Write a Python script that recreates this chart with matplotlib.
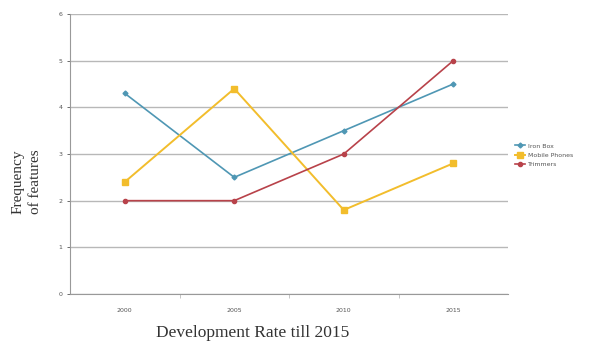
import matplotlib
matplotlib.use("Agg")
import matplotlib.pyplot as plt
import numpy as np

categories = ["2000", "2005", "2010", "2015"]
iron_box = [4.3, 2.5, 3.5, 4.5]
mobile_phones = [2.4, 4.4, 1.8, 2.8]
trimmers = [2.0, 2.0, 3.0, 5.0]
series_names = ["Iron Box", "Mobile Phones", "Trimmers"]

W, H = 595, 344
fig = plt.figure(figsize=(W / 100, H / 100), dpi=100)
ax = fig.add_axes([70 / W, 1 - 294 / H, (508 - 70) / W, (294 - 14) / H])

x = np.arange(len(categories))
ax.plot(x, iron_box, color="#4f97b4", lw=1.2, marker="D", ms=2.5, label=series_names[0])
ax.plot(x, mobile_phones, color="#f2bd2c", lw=1.4, marker="s", ms=4.5, label=series_names[1])
ax.plot(x, trimmers, color="#b8424a", lw=1.2, marker="o", ms=3, label=series_names[2])

ax.set_xlim(-0.5, len(categories) - 0.5)
ax.set_ylim(0, 6)
ax.set_yticks(range(0, 7))
ax.set_xticks(x)
ax.set_xticklabels(categories)
ax.tick_params(axis="both", labelsize=4.5, colors="#555555", length=2, width=0.6)
ax.tick_params(axis="x", length=0, pad=10)
ax.set_xticks(np.arange(0.5, len(categories) - 0.5, 1), minor=True)
ax.tick_params(axis="x", which="minor", length=3, color="#bbbbbb", width=0.6)
ax.grid(axis="y", color="#b8b8b8", lw=1.0)
ax.set_axisbelow(True)
for s in ["top", "right"]:
    ax.spines[s].set_visible(False)
ax.spines["left"].set_color("#999999")
ax.spines["bottom"].set_color("#999999")

fig.text(253 / W, 1 - 333 / H, "Development Rate till 2015", family="Liberation Serif",
         fontsize=12.5, color="#333333", ha="center", va="center")
fig.text(27 / W, 1 - 182 / H, "Frequency\nof features", family="Liberation Serif",
         fontsize=11, color="#333333", ha="center", va="center", rotation=90, linespacing=1.45)

leg = ax.legend(loc="center left", bbox_to_anchor=(512 / W, 1 - 155 / H),
                bbox_transform=fig.transFigure, frameon=False, fontsize=4.5,
                handlelength=1.6, labelspacing=0.6, borderpad=0, handletextpad=0.5)
for t in leg.get_texts():
    t.set_color("#555555")

fig.savefig("out.png", dpi=100)
